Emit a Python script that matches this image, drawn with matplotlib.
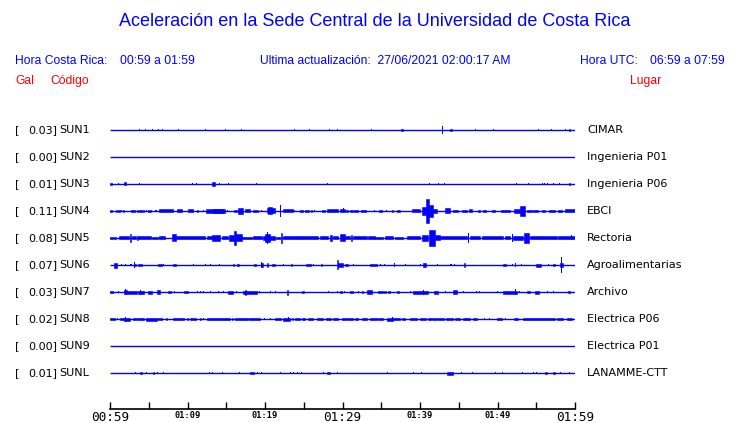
import matplotlib
matplotlib.use("Agg")
from matplotlib import pyplot as plt
from matplotlib import transforms

# station info
gal = [0.03, 0.00, 0.01, 0.11, 0.08, 0.07, 0.03, 0.02, 0.00, 0.01]
codigo = ["SUN1", "SUN2", "SUN3", "SUN4", "SUN5", "SUN6", "SUN7", "SUN8", "SUN9", "SUNL"]
lugar = ["CIMAR", "Ingenieria P01", "Ingenieria P06", "EBCI", "Rectoria",
         "Agroalimentarias", "Archivo", "Electrica P06", "Electrica P01", "LANAMME-CTT"]

# time axis (minutes after 00:59)
tick_min = list(range(0, 61, 5))
tick_lab = ["00:59", "", "01:09", "", "01:19", "", "01:29", "", "01:39", "", "01:49", "", "01:59"]

# bursts: (start min, end min, half amplitude)
sun1 = [(3.78, 3.78, 1.3), (4.56, 4.56, 1.3), (5.46, 5.46, 1.3), (6.28, 6.28, 1.3), (6.75, 6.75, 0.8),
        (8.90, 8.90, 1.3), (12.30, 12.30, 1.3), (14.88, 14.88, 1.3), (16.95, 16.95, 1.3),
        (23.78, 23.78, 1.3), (25.72, 25.72, 0.8), (28.30, 28.30, 0.8), (29.33, 29.33, 1.3),
        (33.72, 33.72, 1.3), (37.55, 37.80, 1.3), (42.88, 42.88, 3.7), (43.90, 44.10, 1.3),
        (47.14, 47.14, 0.8), (49.46, 49.46, 0.8), (55.31, 55.31, 0.8), (56.95, 56.95, 1.3),
        (58.75, 58.75, 1.3), (59.20, 59.35, 1.3)]
sun2 = []
sun3 = [(0.0, 0.30, 1.3), (1.08, 1.08, 1.0), (1.81, 2.06, 1.5), (3.83, 3.83, 1.0), (10.62, 10.62, 0.8),
        (11.14, 11.14, 1.0), (13.16, 13.51, 1.7), (14.11, 14.11, 1.0), (15.27, 15.27, 1.0),
        (18.88, 18.88, 1.0), (28.04, 28.04, 1.3), (41.20, 41.20, 0.8), (42.37, 42.37, 0.8),
        (43.14, 43.14, 1.3), (52.39, 52.39, 1.3), (53.98, 53.98, 1.3), (55.78, 55.78, 1.3),
        (56.08, 56.08, 1.3), (56.43, 56.43, 1.0), (57.20, 57.20, 1.0), (57.98, 57.98, 0.8),
        (59.18, 59.35, 1.3)]
sun4 = [(0.0, 0.30, 1.3), (0.73, 0.86, 1.3), (1.08, 1.29, 1.0), (1.42, 1.51, 1.0), (1.72, 1.85, 0.7),
        (2.71, 3.23, 1.3), (3.48, 3.61, 1.0), (3.78, 4.09, 1.3), (4.26, 4.43, 1.0), (4.69, 4.77, 1.0),
        (4.95, 5.29, 1.0), (5.81, 5.89, 1.0), (6.02, 6.11, 1.0), (6.32, 8.17, 1.5), (8.60, 9.25, 1.5),
        (10.02, 10.75, 1.5), (11.18, 11.40, 1.0), (12.04, 12.04, 0.8), (12.39, 14.84, 1.7),
        (13.3, 14.6, 2.0), (15.18, 15.18, 1.0), (16.04, 16.34, 1.3), (16.56, 17.20, 3.0),
        (17.42, 18.06, 1.5), (18.49, 19.14, 1.3), (19.57, 19.57, 1.0), (20.21, 21.29, 2.5),
        (20.45, 20.95, 3.5), (22.06, 22.15, 6.0), (22.37, 23.66, 1.5), (23.87, 23.87, 1.0),
        (24.52, 24.95, 1.3), (25.16, 25.68, 1.3), (25.94, 26.11, 1.0), (26.45, 26.45, 1.0),
        (27.31, 27.74, 1.3), (27.96, 29.46, 1.5), (29.68, 30.32, 1.5), (30.10, 30.15, 2.5),
        (30.40, 30.70, 1.3), (30.95, 31.30, 1.3), (31.50, 32.04, 1.3), (32.34, 33.03, 1.3),
        (34.19, 34.19, 1.0), (34.75, 35.05, 1.0), (35.70, 35.70, 1.0), (36.34, 36.56, 1.3),
        (36.99, 37.42, 1.3), (38.92, 40.00, 1.5), (40.22, 40.77, 4.0), (40.77, 41.20, 12.0),
        (41.20, 41.63, 6.0), (41.63, 42.15, 2.0), (43.23, 43.87, 2.5), (44.30, 44.95, 1.3),
        (45.38, 46.02, 1.0), (46.37, 46.67, 1.5), (47.53, 47.74, 1.3), (48.17, 48.47, 1.3),
        (49.25, 49.68, 1.0), (50.45, 51.61, 1.3), (52.13, 52.90, 2.0), (52.90, 53.55, 5.0),
        (53.76, 54.41, 1.3), (54.62, 55.27, 1.3), (55.70, 56.13, 1.0), (56.69, 57.42, 1.0),
        (57.85, 58.28, 1.0), (58.71, 60.0, 1.5)]
sun5 = [(0.0, 0.43, 1.3), (0.56, 0.73, 1.0), (1.16, 2.45, 1.5), (2.58, 2.71, 4.0), (2.80, 3.31, 1.5),
        (3.44, 3.57, 2.0), (3.66, 5.29, 1.5), (5.38, 6.24, 1.2), (6.32, 7.10, 1.5), (7.96, 8.47, 3.5),
        (8.47, 12.26, 1.5), (12.47, 13.12, 1.5), (13.20, 14.19, 3.0), (14.41, 15.27, 1.5),
        (15.35, 16.04, 3.0), (16.04, 16.22, 7.0), (16.22, 16.99, 3.5), (16.99, 18.28, 1.3),
        (18.49, 19.57, 1.5), (19.78, 20.0, 2.0), (20.0, 20.65, 4.0), (20.30, 20.40, 6.0),
        (20.65, 21.29, 2.0), (21.38, 21.94, 1.3), (22.06, 22.24, 5.0), (22.37, 24.73, 1.5),
        (24.82, 26.88, 1.5), (27.10, 28.17, 1.5), (28.39, 28.60, 3.0), (28.82, 29.46, 1.5),
        (29.68, 30.32, 3.5), (30.32, 30.97, 1.5), (31.10, 31.23, 3.0), (31.40, 33.12, 1.5),
        (33.33, 34.19, 1.5), (34.19, 35.27, 1.2), (35.48, 36.56, 1.5), (36.78, 37.85, 1.2),
        (38.28, 40.0, 1.5), (40.22, 41.08, 3.0), (41.20, 41.93, 8.0), (41.93, 42.58, 2.5),
        (42.58, 46.02, 1.5), (46.24, 46.24, 5.0), (46.45, 47.74, 1.5), (47.96, 50.75, 1.5),
        (50.97, 51.61, 1.5), (51.91, 51.91, 4.0), (52.04, 53.33, 2.0), (53.46, 54.11, 5.0),
        (54.19, 55.48, 1.5), (55.48, 57.63, 1.5), (57.85, 60.0, 1.5), (59.55, 59.60, 2.5)]
sun6 = [(0.56, 0.86, 2.5), (1.42, 1.42, 1.0), (1.94, 1.94, 1.0), (2.71, 2.71, 1.0), (3.05, 3.31, 1.3),
        (3.14, 3.14, 3.0), (3.57, 4.09, 1.3), (6.15, 6.67, 1.3), (6.92, 6.92, 1.3), (8.13, 8.47, 1.3),
        (10.75, 10.75, 1.0), (12.34, 12.34, 1.0), (13.03, 13.03, 1.0), (14.15, 14.15, 1.3),
        (15.87, 16.04, 1.3), (16.43, 16.65, 1.3), (18.62, 18.80, 1.3), (19.48, 19.78, 2.0),
        (19.60, 19.60, 3.0), (20.21, 20.43, 2.0), (20.95, 21.29, 1.3), (22.37, 22.37, 1.0),
        (23.35, 23.53, 1.3), (25.29, 25.89, 1.3), (26.24, 26.24, 1.3), (27.23, 27.40, 1.3),
        (29.33, 29.46, 4.5), (29.46, 30.11, 2.0), (30.32, 30.75, 1.3), (31.48, 31.48, 1.0),
        (33.55, 34.41, 1.3), (34.92, 34.92, 1.0), (35.48, 35.48, 1.0), (36.73, 36.82, 2.0),
        (38.19, 38.19, 1.0), (40.09, 40.09, 1.0), (40.43, 40.77, 2.0), (42.24, 42.24, 1.3),
        (44.0, 44.0, 0.7), (44.43, 44.43, 0.7), (45.72, 45.85, 2.0), (50.75, 51.05, 1.3),
        (51.96, 51.96, 1.3), (52.34, 52.34, 2.0), (53.12, 53.12, 1.0), (54.97, 55.57, 1.5),
        (56.56, 56.56, 1.3), (57.20, 57.42, 1.3), (58.06, 58.49, 2.0), (58.28, 58.28, 8.0)]
sun7 = [(0.0, 0.43, 1.3), (1.08, 1.08, 1.0), (1.85, 2.15, 2.0), (1.95, 1.95, 3.0), (2.15, 3.44, 1.5),
        (3.66, 4.43, 1.5), (3.90, 3.90, 2.5), (4.95, 5.38, 1.5), (6.02, 6.45, 2.0), (7.44, 7.87, 1.3),
        (8.26, 8.26, 1.0), (9.59, 10.02, 1.3), (11.31, 11.31, 1.0), (11.70, 11.70, 1.0),
        (12.04, 12.04, 1.0), (13.03, 13.03, 1.0), (14.06, 14.06, 1.0), (14.63, 14.63, 1.0),
        (15.27, 15.91, 1.5), (16.34, 16.34, 1.0), (17.20, 18.92, 1.5), (17.40, 17.50, 2.5),
        (19.23, 19.23, 1.0), (20.73, 20.73, 1.0), (21.38, 21.38, 1.0), (22.80, 23.01, 2.5),
        (24.82, 25.08, 1.3), (28.17, 28.17, 1.0), (29.33, 29.33, 1.0), (29.68, 29.89, 1.3),
        (30.32, 30.32, 1.0), (30.97, 31.31, 1.3), (32.04, 32.04, 1.0), (32.47, 32.69, 1.0),
        (33.12, 33.76, 2.0), (34.62, 35.18, 1.3), (35.35, 35.61, 1.3), (35.91, 36.13, 1.0),
        (37.08, 37.33, 1.3), (38.80, 38.80, 1.0), (39.14, 41.08, 1.5), (40.43, 40.43, 2.5),
        (41.85, 42.37, 1.5), (43.23, 43.23, 1.0), (44.22, 44.73, 2.0), (45.59, 45.59, 1.0),
        (47.23, 47.23, 1.3), (47.66, 47.66, 1.0), (49.98, 49.98, 1.0), (50.75, 52.47, 1.5),
        (52.34, 52.34, 3.0), (52.90, 52.90, 1.0), (53.85, 54.19, 1.3), (54.84, 55.40, 1.5),
        (56.43, 56.43, 1.0), (57.20, 57.20, 1.0), (59.14, 59.35, 1.3)]
sun8 = [(0.0, 0.65, 1.3), (0.99, 0.99, 1.0), (1.29, 1.85, 1.3), (1.85, 2.58, 1.5), (2.0, 2.0, 2.5),
        (3.01, 3.44, 1.3), (3.66, 4.09, 1.3), (4.17, 4.43, 1.3), (4.60, 6.02, 1.5), (6.24, 6.75, 1.3),
        (7.18, 7.31, 1.3), (8.17, 9.55, 1.3), (9.89, 10.11, 1.3), (10.32, 11.05, 1.3),
        (11.61, 11.74, 1.0), (12.04, 12.04, 1.0), (12.47, 15.48, 1.3), (15.70, 15.91, 1.3),
        (16.13, 17.85, 1.3), (17.94, 19.35, 1.3), (19.91, 19.91, 1.0), (20.65, 20.65, 1.0),
        (21.29, 22.06, 1.3), (22.37, 23.23, 1.5), (23.0, 23.0, 2.0), (23.44, 23.66, 1.3),
        (23.87, 24.52, 1.3), (24.73, 25.16, 1.3), (25.59, 26.24, 1.3), (26.67, 27.53, 1.3),
        (27.83, 28.52, 1.3), (28.82, 29.46, 1.3), (29.89, 30.45, 1.3), (30.54, 31.31, 1.3),
        (31.61, 32.04, 1.3), (32.47, 33.12, 1.3), (33.55, 34.41, 1.3), (34.62, 35.18, 1.3),
        (35.70, 36.56, 1.5), (36.45, 36.45, 2.0), (36.56, 37.42, 1.3), (37.63, 38.06, 1.0),
        (38.71, 39.66, 1.3), (40.0, 40.77, 1.3), (41.08, 41.51, 1.3), (41.72, 42.15, 1.3),
        (42.37, 43.10, 1.3), (43.36, 44.30, 1.3), (44.52, 45.16, 1.3), (45.51, 46.45, 1.3),
        (46.88, 47.40, 1.3), (48.26, 48.26, 1.0), (49.03, 49.03, 1.0), (49.98, 50.54, 1.3),
        (50.97, 50.97, 1.0), (52.13, 52.69, 1.3), (53.25, 57.42, 1.3), (57.63, 58.49, 1.3),
        (58.92, 59.57, 1.3)]
sun9 = []
sunl = [(3.23, 3.23, 1.0), (3.87, 4.09, 1.3), (4.73, 4.73, 1.0), (5.51, 5.63, 1.3), (6.11, 6.11, 1.0),
        (6.88, 6.88, 1.0), (12.90, 12.90, 1.0), (13.20, 13.20, 1.0), (14.49, 14.49, 1.0),
        (16.77, 16.77, 1.0), (18.06, 18.62, 1.3), (19.05, 19.05, 1.0), (19.57, 19.57, 1.0),
        (21.94, 21.94, 0.7), (23.23, 23.23, 1.0), (23.66, 23.66, 0.7), (24.22, 24.22, 1.0),
        (24.65, 24.65, 0.7), (27.53, 27.53, 1.0), (27.96, 28.39, 1.3), (29.33, 29.33, 0.7),
        (35.78, 35.78, 0.7), (39.14, 39.14, 1.0), (40.22, 40.22, 1.3), (43.44, 44.22, 1.5),
        (45.38, 45.38, 0.7), (46.75, 46.75, 1.0), (49.68, 49.68, 1.0), (50.62, 50.62, 0.7),
        (53.25, 53.25, 1.0), (54.62, 54.62, 1.0), (54.97, 54.97, 0.7), (56.13, 56.43, 1.3),
        (57.20, 57.42, 1.0), (58.15, 58.15, 1.0), (59.27, 59.27, 1.0)]
trazas = [sun1, sun2, sun3, sun4, sun5, sun6, sun7, sun8, sun9, sunl]

azul = "#0000ff"
rojo = "#ff0000"
W, H = 740, 423
fig = plt.figure(figsize=(W / 100, H / 100), dpi=100)

# axes: x from px 110 to 575, bottom spine at px 409, rows 27 px apart from px 130
ax = fig.add_axes([110 / W, 1 - 409 / H, 465 / W, (409 - 110) / H])
ax.set_xlim(0, 60)
ax.set_ylim((409 - 130) / 27, (110 - 130) / 27)
escala = 1 / 27  # amplitude units -> row units

for i, traza in enumerate(trazas):
    ax.plot([0, 60], [i, i], color=azul, lw=1.0, solid_capstyle="butt")
    for t0, t1, a in traza:
        if t1 - t0 < 0.1:
            # single spike
            ax.bar(t0, 2 * a * escala, width=0.13, bottom=i - a * escala, align="center",
                   color=azul, linewidth=0)
        else:
            ax.bar(t0, 2 * a * escala, width=t1 - t0, bottom=i - a * escala, align="edge",
                   color=azul, edgecolor=azul, linewidth=0.4)

for s in ["top", "left", "right"]:
    ax.spines[s].set_visible(False)
ax.spines["bottom"].set_linewidth(1.2)
ax.set_yticks([])
ax.set_xticks(tick_min)
ax.set_xticklabels(tick_lab, family="DejaVu Sans Mono")
ax.tick_params(axis="x", direction="in", length=5, width=1.0, pad=1.5, colors="black")
for lab in ax.get_xticklabels():
    if lab.get_text() in ("00:59", "01:29", "01:59"):
        lab.set_fontsize(9.2)
    else:
        lab.set_fontsize(6.2)
        lab.set_fontweight("bold")

# row labels
tr = transforms.blended_transform_factory(fig.transFigure, ax.transData)
for i in range(len(codigo)):
    ax.text(15 / W, i, "[", transform=tr, fontsize=8, va="center", ha="left", family="DejaVu Sans")
    ax.text(57 / W, i, "%.2f]" % gal[i], transform=tr, fontsize=8, va="center", ha="right",
            family="DejaVu Sans")
    ax.text(59 / W, i, codigo[i], transform=tr, fontsize=8, va="center", ha="left",
            family="DejaVu Sans")
    ax.text(587 / W, i, lugar[i], transform=tr, fontsize=8, va="center", ha="left",
            family="DejaVu Sans")

# header
hf = "Liberation Sans"
hs = 8.7
fig.text(375 / W, 1 - 22 / H, "Aceleración en la Sede Central de la Universidad de Costa Rica",
         ha="center", va="center", fontsize=13, color=azul, family=hf)
fig.text(15 / W, 1 - 61 / H, "Hora Costa Rica:", fontsize=hs, color=azul, family=hf, va="center")
fig.text(120 / W, 1 - 61 / H, "00:59 a 01:59", fontsize=hs, color=azul, family=hf, va="center")
fig.text(260 / W, 1 - 61 / H, "Ultima actualización:  27/06/2021 02:00:17 AM", fontsize=hs,
         color=azul, family=hf, va="center")
fig.text(580 / W, 1 - 61 / H, "Hora UTC:", fontsize=hs, color=azul, family=hf, va="center")
fig.text(650 / W, 1 - 61 / H, "06:59 a 07:59", fontsize=hs, color=azul, family=hf, va="center")
fig.text(15 / W, 1 - 81 / H, "Gal", fontsize=hs, color=rojo, family=hf, va="center")
fig.text(50 / W, 1 - 81 / H, "Código", fontsize=hs, color=rojo, family=hf, va="center")
fig.text(630 / W, 1 - 81 / H, "Lugar", fontsize=hs, color=rojo, family=hf, va="center")

fig.savefig("out.png", dpi=100)
